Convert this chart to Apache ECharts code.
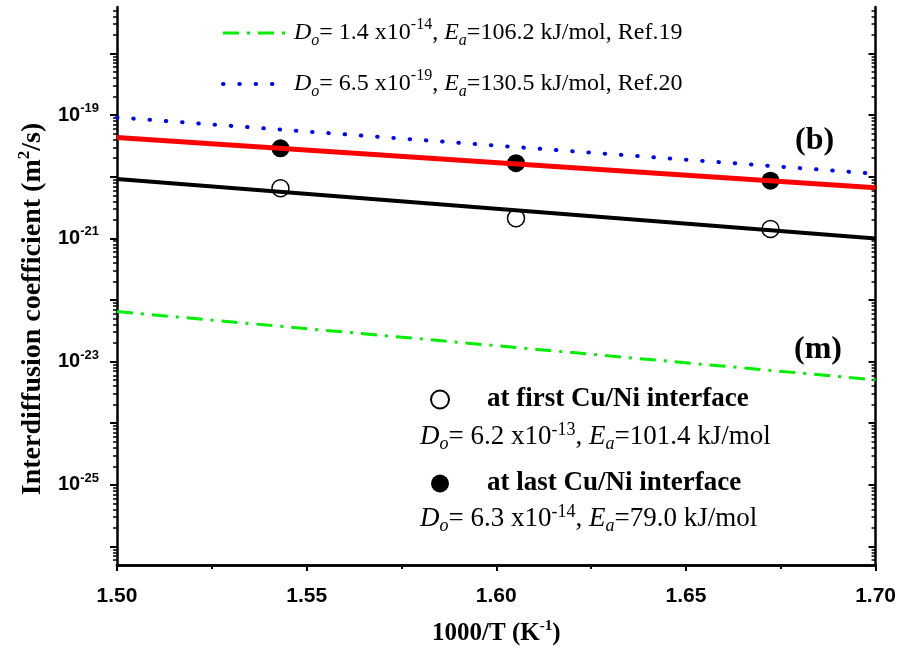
<!DOCTYPE html>
<html>
<head>
<meta charset="utf-8">
<script src="https://cdn.jsdelivr.net/npm/echarts@6/dist/echarts.min.js"></script>
<style>
  html, body { margin: 0; padding: 0; background: #fff; }
  #chart { width: 899px; height: 660px; }
</style>
</head>
<body>
<div id="chart"></div>
<script>
// values
const tempFirst = [1.5431, 1.6052, 1.6723]
const dFirst = [6.50e-21, 2.12e-21, 1.42e-21]
const tempLast = [1.5431, 1.6052, 1.6723]
const dLast = [2.90e-20, 1.66e-20, 8.65e-21]
// fitted lines, end points at 1000/T = 1.50 and 1.70
const fitX = [1.50, 1.70]
const fitFirst = [9.2e-21, 1.0e-21]
const fitLast = [4.36e-20, 6.65e-21]
const ref19 = [6.49e-23, 5.06e-24]
const ref20 = [9.2e-20, 1.12e-20]

// log axis ticks
const yMin = 5.0e-27
const yMax = 5.7e-18
const yMajorExp = [-26, -25, -24, -23, -22, -21, -20, -19, -18]
const yLabelExp = [-25, -23, -21, -19]
const yMinorMult = [2, 3, 4, 5, 6, 7, 8, 9]

const yMajor = yMajorExp.map(e => Math.pow(10, e))
const yLabels = yLabelExp.map(e => Math.pow(10, e))
const yMinor = []
;[-27].concat(yMajorExp).forEach(e => {
  yMinorMult.forEach(m => {
    const v = m * Math.pow(10, e)
    if (v > yMin && v < yMax) yMinor.push(v)
  })
})

const pairs = (xs, ys) => xs.map((x, i) => [x, ys[i]])

const serif = 'Liberation Serif'
const sans = 'Liberation Sans'
const makeRich = (size) => ({
  n: { fontFamily: serif, fontSize: size, color: '#000', lineHeight: 32 },
  i: { fontFamily: serif, fontSize: size, fontStyle: 'italic', color: '#000', lineHeight: 32 },
  sub: { fontFamily: serif, fontSize: Math.round(size * 0.66), fontStyle: 'italic', color: '#000', lineHeight: 12, verticalAlign: 'bottom' },
  sup: { fontFamily: serif, fontSize: Math.round(size * 0.66), color: '#000', lineHeight: 12, verticalAlign: 'top' }
})
const richTop = makeRich(24)
const richBottom = makeRich(27)
const formula = (d0, exp, ea, tail) =>
  '{i|D}{sub|o}{n|= ' + d0 + ' x10}{sup|' + exp + '}{n|, }{i|E}{sub|a}{n|=' + ea + ' kJ/mol' + tail + '}'

const legendText = {
  ref19: formula('1.4', '-14', '106.2', ', Ref.19'),
  ref20: formula('6.5', '-19', '130.5', ', Ref.20'),
  first: 'at first Cu/Ni interface',
  last: 'at last Cu/Ni interface'
}

const titleRich = {
  t: { fontFamily: serif, fontWeight: 'bold', fontSize: 28, color: '#000', lineHeight: 34, padding: [0, 0, 0, 0] },
  s: { fontFamily: serif, fontWeight: 'bold', fontSize: 17, color: '#000', lineHeight: 12, verticalAlign: 'top' }
}

const chart = echarts.init(document.getElementById('chart'))

const yCommon = {
  type: 'log',
  logBase: 10,
  min: yMin,
  max: yMax,
  splitLine: { show: false }
}

chart.setOption({
  animation: false,
  grid: { left: 117, right: 22, top: 7, bottom: 95 },
  xAxis: [
    {
      type: 'value',
      min: 1.5,
      max: 1.7,
      interval: 0.05,
      name: '{t|1000/T (K}{s|-1}{t|)}',
      nameLocation: 'middle',
      nameGap: 54,
      nameTextStyle: {
        rich: {
          t: { fontFamily: serif, fontWeight: 'bold', fontSize: 25, color: '#000', lineHeight: 30 },
          s: { fontFamily: serif, fontWeight: 'bold', fontSize: 15, color: '#000', lineHeight: 12, verticalAlign: 'top' }
        }
      },
      axisLine: { lineStyle: { color: '#000', width: 2.5 } },
      axisTick: { length: 6, lineStyle: { width: 2 } },
      minorTick: { show: true, splitNumber: 2, length: 4, lineStyle: { color: '#000', width: 2 } },
      splitLine: { show: false },
      axisLabel: {
        margin: 21,
        color: '#000',
        fontFamily: sans,
        fontWeight: 'bold',
        fontSize: 21,
        formatter: v => v.toFixed(2)
      }
    },
    {
      type: 'value',
      position: 'top',
      min: 1.5,
      max: 1.7,
      interval: 0.05,
      axisLine: { lineStyle: { color: '#000', width: 2.5 } },
      axisTick: { inside: true, length: 6, lineStyle: { width: 2 } },
      minorTick: { show: true, splitNumber: 2, length: 4, lineStyle: { color: '#000', width: 2 } },
      splitLine: { show: false },
      axisLabel: { show: false }
    }
  ],
  yAxis: [
    Object.assign({}, yCommon, {
      position: 'left',
      name: '{t|Interdiffusion coefficient (m}{s|2}{t|/s)}',
      nameLocation: 'middle',
      nameGap: 64,
      nameTextStyle: { rich: titleRich, padding: [0, 46, 0, 0] },
      axisLine: { show: true, lineStyle: { color: '#000', width: 2.5 } },
      axisTick: { length: 7, customValues: yMajor, lineStyle: { color: '#000', width: 2 } },
      axisLabel: {
        margin: 18,
        customValues: yLabels,
        formatter: v => '{b|10}{s|' + Math.round(Math.log10(v)) + '}',
        rich: {
          b: { fontFamily: sans, fontWeight: 'bold', fontSize: 20, color: '#000', lineHeight: 26 },
          s: { fontFamily: sans, fontWeight: 'bold', fontSize: 13, color: '#000', lineHeight: 10, verticalAlign: 'top' }
        }
      }
    }),
    Object.assign({}, yCommon, {
      position: 'right',
      axisLine: { show: true, lineStyle: { color: '#000', width: 2.5 } },
      axisTick: { inside: true, length: 7, customValues: yMajor, lineStyle: { color: '#000', width: 2 } },
      axisLabel: { show: false }
    }),
    Object.assign({}, yCommon, {
      position: 'left',
      axisLine: { show: false },
      axisTick: { length: 4, customValues: yMinor, lineStyle: { color: '#000', width: 1.5 } },
      axisLabel: { show: false }
    }),
    Object.assign({}, yCommon, {
      position: 'right',
      axisLine: { show: false },
      axisTick: { inside: true, length: 4, customValues: yMinor, lineStyle: { color: '#000', width: 1.5 } },
      axisLabel: { show: false }
    })
  ],
  legend: [
    {
      data: [
        { name: 'ref19', itemStyle: { opacity: 0 }, lineStyle: { width: 3, type: [16, 8, 3, 8] } },
        { name: 'ref20', itemStyle: { opacity: 0 }, lineStyle: { width: 4, type: [0.5, 15.8], cap: 'round' } }
      ],
      orient: 'vertical',
      left: 216,
      top: 12,
      itemWidth: 63,
      itemHeight: 14,
      itemGap: 19,
      selectedMode: false,
      formatter: name => legendText[name],
      textStyle: { rich: richTop, padding: [0, 0, 0, 3] }
    },
    {
      data: ['first', 'last'],
      orient: 'vertical',
      left: 425,
      top: 381,
      itemWidth: 80,
      itemHeight: 18,
      itemGap: 57,
      selectedMode: false,
      formatter: name => legendText[name],
      textStyle: { fontFamily: serif, fontWeight: 'bold', fontSize: 27, color: '#000', lineHeight: 26, padding: [0, 0, 0, 2] }
    }
  ],
  graphic: [
    { type: 'text', x: 420, y: 437, style: { text: formula('6.2', '-13', '101.4', ''), rich: richBottom, verticalAlign: 'middle' } },
    { type: 'text', x: 420, y: 519, style: { text: formula('6.3', '-14', '79.0', ''), rich: richBottom, verticalAlign: 'middle' } },
    { type: 'text', x: 795, y: 141, style: { text: '(b)', fontFamily: serif, fontWeight: 'bold', fontSize: 32, fill: '#000', verticalAlign: 'middle' } },
    { type: 'text', x: 794, y: 350, style: { text: '(m)', fontFamily: serif, fontWeight: 'bold', fontSize: 32, fill: '#000', verticalAlign: 'middle' } }
  ],
  series: [
    {
      name: 'first',
      type: 'scatter',
      symbol: 'circle',
      symbolSize: 17,
      data: pairs(tempFirst, dFirst),
      itemStyle: { color: 'rgba(255,255,255,0)', borderColor: '#000', borderWidth: 1.5, opacity: 1 }
    },
    {
      name: 'last',
      type: 'scatter',
      symbol: 'circle',
      symbolSize: 18,
      data: pairs(tempLast, dLast),
      itemStyle: { color: '#000', opacity: 1 }
    },
    {
      name: 'fitFirst',
      type: 'line',
      symbol: 'none',
      data: pairs(fitX, fitFirst),
      lineStyle: { color: '#000', width: 4 }
    },
    {
      name: 'fitLast',
      type: 'line',
      symbol: 'none',
      data: pairs(fitX, fitLast),
      lineStyle: { color: '#ff0000', width: 5 }
    },
    {
      name: 'ref19',
      type: 'line',
      symbol: 'none',
      data: pairs(fitX, ref19),
      itemStyle: { color: '#00ee00' },
      lineStyle: { color: '#00ee00', width: 3, type: [16, 8, 3, 8] }
    },
    {
      name: 'ref20',
      type: 'line',
      symbol: 'none',
      data: pairs(fitX, ref20),
      itemStyle: { color: '#0000ff' },
      lineStyle: { color: '#0000ff', width: 4, type: [0.5, 15.8], cap: 'round' }
    }
  ]
})
</script>
</body>
</html>
